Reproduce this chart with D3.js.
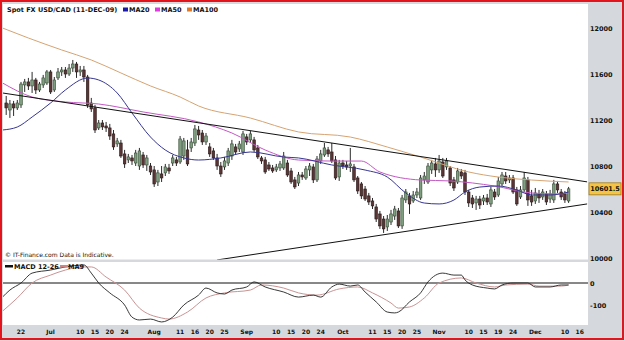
<!DOCTYPE html>
<html>
<head>
<meta charset="utf-8">
<script src="https://d3js.org/d3.v7.min.js"></script>
<style>
body { margin: 0; background: #fff; }
svg { display: block; }
text { font-family: "DejaVu Sans", Verdana, sans-serif; font-weight: bold; fill: #111; }
</style>
</head>
<body>
<svg width="625" height="341"></svg>
<script>
// daily bars 17-Jun-09 .. 11-Dec-09 (FX days, Sun..Fri)
var opens = [11348,11287,11340,11305,11331,11505,11531,11496,11548,11461,
  11505,11522,11618,11461,11566,11618,11635,11600,11652,11687,
  11618,11635,11574,11348,11305,11131,11174,11148,11131,11079,
  10992,11000,10905,10853,10870,10826,10800,10896,10809,10800,
  10766,10661,10731,10740,10783,10826,10853,10835,10887,10940,
  10957,11000,11113,11087,11009,10966,10931,10870,10800,10792,
  10826,10887,10966,10948,10922,11053,11027,11027,10957,10870,
  10853,10809,10783,10766,10783,10783,10826,10757,10679,10652,
  10722,10696,10766,10792,10679,10844,10896,10940,10922,10853,
  10705,10826,10809,10800,10792,10696,10644,10600,10540,10496,
  10444,10383,10339,10270,10313,10365,10409,10279,10505,10540,
  10496,10548,10522,10679,10661,10766,10818,10766,10835,10792,
  10783,10679,10661,10748,10740,10574,10522,10479,10513,10496,
  10522,10470,10574,10548,10644,10713,10679,10696,10592,10531,
  10592,10679,10540,10496,10557,10531,10557,10513,10505,10644,
  10574,10557,10496];
var highs = [11409,11374,11366,11374,11531,11557,11566,11618,11566,11531,
  11592,11635,11635,11574,11652,11661,11661,11687,11722,11705,
  11670,11670,11592,11392,11331,11200,11200,11183,11166,11113,
  11044,11027,10940,10905,10896,10940,10957,10922,10896,10826,
  10800,10766,10800,10818,10818,10896,10879,11061,11044,11027,
  11044,11157,11148,11113,11087,11000,10957,10905,10835,10879,
  10957,11027,10992,11018,11105,11079,11105,11053,10983,10887,
  10879,10835,10809,10818,10844,10922,10853,10783,10705,10748,
  10748,10800,10826,10818,10887,10940,11000,10966,11000,10887,
  10853,10853,10844,10957,10818,10713,10661,10626,10566,10522,
  10470,10409,10365,10374,10418,10453,10435,10548,10600,10566,
  10583,10609,10722,10748,10826,10853,10870,10896,10870,10870,
  10800,10705,10783,10774,10766,10592,10548,10540,10540,10548,
  10557,10618,10600,10705,10748,10748,10722,10722,10618,10626,
  10748,10705,10592,10609,10592,10600,10583,10592,10679,10670,
  10600,10583,10618];
var lows = [11244,11218,11235,11287,11305,11444,11461,11435,11426,11444,
  11479,11505,11426,11444,11548,11583,11566,11583,11618,11566,
  11583,11531,11305,11270,11087,11113,11113,11096,11027,10940,
  10966,10870,10783,10826,10809,10800,10766,10783,10757,10722,
  10618,10626,10661,10713,10731,10800,10800,10818,10853,10800,
  10922,10974,11027,10983,10983,10879,10853,10766,10705,10766,
  10800,10853,10896,10922,10896,10983,11000,10922,10861,10818,
  10731,10757,10740,10748,10757,10766,10705,10644,10600,10626,
  10679,10679,10713,10652,10661,10818,10879,10879,10826,10679,
  10670,10774,10766,10748,10661,10557,10513,10496,10461,10426,
  10313,10253,10218,10235,10287,10331,10261,10253,10479,10383,
  10479,10522,10505,10644,10644,10731,10705,10740,10696,10766,
  10626,10583,10644,10687,10548,10444,10435,10418,10426,10461,
  10461,10444,10505,10531,10626,10644,10652,10557,10453,10513,
  10574,10453,10453,10470,10479,10505,10461,10479,10479,10566,
  10505,10479,10479];
var closes = [11305,11340,11305,11348,11513,11531,11496,11548,11461,11513,
  11566,11618,11444,11548,11618,11635,11600,11652,11687,11618,
  11635,11574,11331,11296,11113,11174,11140,11131,11061,10966,
  11018,10887,10818,10879,10844,10913,10931,10809,10870,10748,
  10644,10740,10696,10792,10757,10870,10826,11035,11018,10818,
  11009,11122,11070,11009,11061,10905,10870,10800,10731,10844,
  10931,10992,10922,10992,11079,11009,11079,10940,10879,10844,
  10748,10774,10757,10792,10818,10887,10722,10661,10618,10722,
  10705,10774,10800,10679,10861,10905,10957,10905,10844,10696,
  10826,10800,10792,10818,10679,10583,10540,10513,10487,10453,
  10339,10279,10253,10339,10383,10426,10279,10522,10574,10470,
  10548,10574,10696,10713,10800,10826,10766,10844,10713,10844,
  10652,10609,10757,10713,10574,10479,10470,10513,10461,10522,
  10487,10592,10531,10670,10722,10670,10696,10574,10470,10592,
  10696,10505,10487,10566,10522,10574,10487,10557,10644,10592,
  10531,10505,10601.5];

var ma20 = [["2009-06-16",11113],["2009-06-21",11139],["2009-06-25",11226],["2009-07-01",11348],
  ["2009-07-06",11461],["2009-07-13",11565],["2009-07-16",11548],["2009-07-22",11435],
  ["2009-07-27",11261],["2009-08-02",11052],["2009-08-06",10939],["2009-08-12",10870],
  ["2009-08-17",10852],["2009-08-24",10870],["2009-09-02",10922],["2009-09-13",10878],
  ["2009-09-17",10870],["2009-09-28",10809],["2009-10-08",10765],["2009-10-15",10704],
  ["2009-10-21",10565],["2009-10-27",10478],["2009-11-01",10470],["2009-11-05",10504],
  ["2009-11-09",10574],["2009-11-13",10617],["2009-11-19",10626],["2009-11-25",10591],
  ["2009-11-30",10548],["2009-12-06",10548],["2009-12-11",10574]];
var ma50 = [["2009-06-16",11522],["2009-06-25",11400],["2009-07-06",11357],["2009-07-16",11339],
  ["2009-07-30",11270],["2009-08-17",11183],["2009-08-27",11087],["2009-09-07",10939],
  ["2009-09-17",10852],["2009-09-28",10843],["2009-10-07",10843],["2009-10-13",10748],
  ["2009-10-26",10678],["2009-11-04",10670],["2009-11-18",10626],["2009-11-30",10565],
  ["2009-12-08",10557],["2009-12-11",10565]];
var ma100 = [["2009-06-16",12000],["2009-06-24",11913],["2009-07-05",11809],["2009-07-14",11722],
  ["2009-07-23",11609],["2009-08-02",11496],["2009-08-11",11400],["2009-08-17",11322],
  ["2009-09-02",11217],["2009-09-17",11096],["2009-10-04",11052],["2009-10-15",10965],
  ["2009-10-26",10878],["2009-11-10",10748],["2009-11-19",10704],["2009-11-30",10678],
  ["2009-12-11",10661]];

var macd = [["2009-06-16",-64],["2009-06-18",-32],["2009-06-22",0],["2009-06-25",45],["2009-07-01",59],
  ["2009-07-06",73],["2009-07-12",82],["2009-07-14",45],["2009-07-16",0],["2009-07-20",-45],
  ["2009-07-24",-100],["2009-07-27",-155],["2009-07-29",-168],["2009-08-02",-164],["2009-08-05",-177],
  ["2009-08-09",-155],["2009-08-12",-100],["2009-08-17",-55],["2009-08-19",-23],["2009-08-23",-45],
  ["2009-08-25",-50],["2009-08-27",-32],["2009-09-01",-18],["2009-09-03",5],["2009-09-07",-18],
  ["2009-09-13",-41],["2009-09-17",-64],["2009-09-22",-55],["2009-09-24",-64],["2009-09-28",-18],
  ["2009-09-30",-5],["2009-10-04",-14],["2009-10-06",-9],["2009-10-08",-41],["2009-10-12",-86],
  ["2009-10-15",-132],["2009-10-18",-136],["2009-10-19",-132],["2009-10-22",-86],["2009-10-26",-45],
  ["2009-10-28",5],["2009-11-02",45],["2009-11-05",36],["2009-11-08",36],["2009-11-09",14],
  ["2009-11-11",-9],["2009-11-16",-23],["2009-11-18",-27],["2009-11-20",-9],["2009-11-24",0],
  ["2009-11-29",0],["2009-12-01",-18],["2009-12-06",-18],["2009-12-09",-9],["2009-12-11",-9]];
var signal = [["2009-06-16",-128],["2009-06-21",-68],["2009-06-25",0],["2009-07-01",36],["2009-07-06",59],
  ["2009-07-12",73],["2009-07-14",73],["2009-07-19",27],["2009-07-24",-32],["2009-07-29",-114],
  ["2009-08-05",-159],["2009-08-07",-164],["2009-08-13",-132],["2009-08-19",-68],["2009-08-25",-45],
  ["2009-09-02",-32],["2009-09-06",-9],["2009-09-13",-23],["2009-09-17",-45],["2009-09-23",-55],
  ["2009-09-30",-27],["2009-10-06",-18],["2009-10-11",-45],["2009-10-16",-91],["2009-10-19",-114],
  ["2009-10-22",-109],["2009-10-27",-68],["2009-11-01",0],["2009-11-08",23],["2009-11-12",0],
  ["2009-11-18",-18],["2009-11-22",-9],["2009-11-29",-5],["2009-12-02",-14],["2009-12-09",-14],
  ["2009-12-11",-9]];

var upperTrend = [["2009-06-16",11435],["2009-12-18",10662]];
var lowerTrend = [["2009-08-23",9983],["2009-12-18",10470]];

var xTickDates = ["2009-06-22","2009-07-01","2009-07-10","2009-07-15","2009-07-20","2009-07-24",
  "2009-08-03","2009-08-11","2009-08-16","2009-08-20","2009-08-25","2009-09-01","2009-09-10",
  "2009-09-15","2009-09-20","2009-09-24","2009-10-01","2009-10-11","2009-10-15","2009-10-20",
  "2009-10-25","2009-11-01","2009-11-10","2009-11-15","2009-11-19","2009-11-24","2009-12-01",
  "2009-12-10","2009-12-16"];
var xTickLabels = ["22","Jul","10","15","20","24","Aug","11","16","20","25","Sep","10","15","20","24",
  "Oct","11","15","20","25","Nov","10","15","19","24","Dec","10","16"];
var priceTicks = [10000,10400,10800,11200,11600,12000];
var macdTicks = [0,-100];
var lastPrice = 10601.5;

var svg = d3.select("svg");
var fmt = d3.timeFormat("%Y-%m-%d");

// trading days: Sunday..Friday, no Sunday after the last bar
var days = d3.timeDay.range(new Date(2009,5,15), new Date(2009,11,19))
  .filter(function(d){
    var w = d.getDay();
    if (w == 6) return false;
    if (w == 0 && d > new Date(2009,11,12)) return false;
    return true;
  }).map(fmt);
var barDays = days.slice(2, 2 + closes.length);

var x = d3.scalePoint().domain(days).range([-1.2, -1.2 + 3.7*(days.length-1)]);
var y = d3.scaleLinear().domain([10000,12000]).range([258,28]);
var ym = d3.scaleLinear().domain([-100,0]).range([305,283]);

// frame
svg.append("rect").attr("width",625).attr("height",341).attr("fill","#d5d9dd");
svg.append("rect").attr("x",3).attr("y",4).attr("width",585).attr("height",255.5).attr("fill","#fff");
svg.append("rect").attr("x",3).attr("y",262).attr("width",585).attr("height",63).attr("fill","#fff");
svg.append("rect").attr("x",1).attr("y",1).attr("width",622).attr("height",338)
  .attr("fill","none").attr("stroke","#e3141b").attr("stroke-width",2);

var defs = svg.append("defs");
defs.append("clipPath").attr("id","cp").append("rect").attr("x",3).attr("y",4).attr("width",585).attr("height",255.5);
defs.append("clipPath").attr("id","cm").append("rect").attr("x",3).attr("y",262).attr("width",585).attr("height",63);

var gp = svg.append("g").attr("clip-path","url(#cp)");
var gm = svg.append("g").attr("clip-path","url(#cm)");

// candles
var bars = barDays.map(function(d,i){ return {d:d, o:opens[i], h:highs[i], l:lows[i], c:closes[i]}; });
gp.selectAll("line.wick").data(bars).enter().append("line")
  .attr("x1",function(d){return x(d.d);}).attr("x2",function(d){return x(d.d);})
  .attr("y1",function(d){return y(d.h);}).attr("y2",function(d){return y(d.l);})
  .attr("stroke","#2a2a2a").attr("stroke-width",1);
gp.selectAll("rect.body").data(bars).enter().append("rect")
  .attr("x",function(d){return x(d.d)-1.3;}).attr("width",2.6)
  .attr("y",function(d){return y(Math.max(d.o,d.c));})
  .attr("height",function(d){return Math.max(1, Math.abs(y(d.o)-y(d.c)));})
  .attr("fill",function(d){return d.c>=d.o ? "#7f9d7f" : "#5a3535";})
  .attr("stroke",function(d){return d.c>=d.o ? "#354a35" : "#2a1818";})
  .attr("stroke-width",0.6);

var line = d3.line().x(function(d){return x(d[0]);}).y(function(d){return y(d[1]);}).curve(d3.curveMonotoneX);
gp.append("path").attr("d",line(ma100)).attr("fill","none").attr("stroke","#d6a372").attr("stroke-width",1);
gp.append("path").attr("d",line(ma50)).attr("fill","none").attr("stroke","#c25ac2").attr("stroke-width",1);
gp.append("path").attr("d",line(ma20)).attr("fill","none").attr("stroke","#363690").attr("stroke-width",1);

var straight = d3.line().x(function(d){return x(d[0]);}).y(function(d){return y(d[1]);});
gp.append("path").attr("d",straight(upperTrend)).attr("stroke","#111").attr("stroke-width",1).attr("fill","none");
gp.append("path").attr("d",straight(lowerTrend)).attr("stroke","#111").attr("stroke-width",1).attr("fill","none");

// title + legend
svg.append("text").attr("x",7).attr("y",12).style("font-size","6.5px").text("Spot FX USD/CAD (11-DEC-09)");
var leg = [["MA20","#1a1aa6",123],["MA50","#dd3ddd",155],["MA100","#e07a2a",187]];
leg.forEach(function(l){
  svg.append("rect").attr("x",l[2]).attr("y",7.5).attr("width",5).attr("height",4).attr("fill",l[1]);
  svg.append("text").attr("x",l[2]+6).attr("y",12).style("font-size","6.5px").text(l[0]);
});
svg.append("text").attr("x",5).attr("y",257).style("font-size","6px").style("font-weight","normal")
  .text("\u00a9 IT-Finance.com Data is Indicative.");

// price axis
svg.selectAll("text.py").data(priceTicks).enter().append("text")
  .attr("x",590).attr("y",function(d){return y(d)+2.5;}).style("font-size","6.5px").text(function(d){return d;});
svg.append("rect").attr("x",589).attr("y",y(lastPrice)-6).attr("width",32).attr("height",12)
  .attr("fill","#f6c445").attr("stroke","#9c7a1c").attr("stroke-width",0.8);
svg.append("text").attr("x",605).attr("y",y(lastPrice)+2.5).attr("text-anchor","middle")
  .style("font-size","6.5px").text(lastPrice.toFixed(1));

// MACD panel
gm.append("line").attr("x1",3).attr("x2",588).attr("y1",ym(0)).attr("y2",ym(0)).attr("stroke","#111").attr("stroke-width",1);
var mline = d3.line().x(function(d){return x(d[0]);}).y(function(d){return ym(d[1]);}).curve(d3.curveMonotoneX);
gm.append("path").attr("d",mline(signal)).attr("fill","none").attr("stroke","#c99393").attr("stroke-width",1);
gm.append("path").attr("d",mline(macd)).attr("fill","none").attr("stroke","#222").attr("stroke-width",0.9);
svg.append("rect").attr("x",5).attr("y",265).attr("width",8).attr("height",2.5).attr("fill","#111");
svg.append("text").attr("x",14).attr("y",268.5).style("font-size","6.5px").text("MACD 12-26");
svg.append("rect").attr("x",60).attr("y",265).attr("width",8).attr("height",2.5).attr("fill","#d08585");
svg.append("text").attr("x",68).attr("y",268.5).style("font-size","6.5px").text("MA9");
svg.selectAll("text.my").data(macdTicks).enter().append("text")
  .attr("x",590).attr("y",function(d){return ym(d)+2.5;}).style("font-size","6.5px").text(function(d){return d;});

// date axis
svg.selectAll("text.xl").data(xTickDates).enter().append("text")
  .attr("x",function(d){return x(d);}).attr("y",334).attr("text-anchor","middle")
  .style("font-size","6px").text(function(d,i){return xTickLabels[i];});
</script>
</body>
</html>
